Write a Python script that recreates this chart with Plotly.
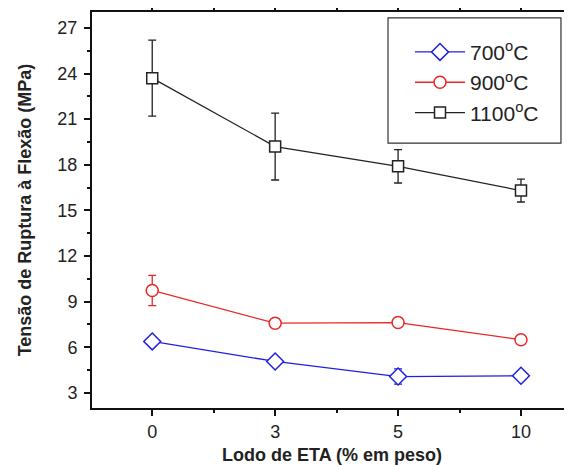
import plotly.graph_objects as go

categories = ["0", "3", "5", "10"]
series_names = ["700<sup>o</sup>C", "900<sup>o</sup>C", "1100<sup>o</sup>C"]
vals_700 = [6.38, 5.06, 4.07, 4.12]
err_700 = [0.3, 0.3, 0.5, 0.3]
vals_900 = [9.73, 7.58, 7.62, 6.49]
err_900 = [1.0, 0.3, 0.3, 0.2]
vals_1100 = [23.7, 19.2, 17.9, 16.3]
err_1100 = [2.5, 2.2, 1.1, 0.75]
y_ticks = [3, 6, 9, 12, 15, 18, 21, 24, 27]

colors = ["#2020e0", "#e82828", "#222222"]
symbols = ["diamond", "circle", "square"]
sizes = [13, 12, 11]

xpos = list(range(len(categories)))
fig = go.Figure()
for name, vals, errs, c, s, sz in zip(series_names, [vals_700, vals_900, vals_1100],
                                       [err_700, err_900, err_1100], colors, symbols, sizes):
    fig.add_trace(go.Scatter(
        x=xpos, y=vals, name=name, mode="lines+markers",
        line=dict(color=c, width=1.3),
        marker=dict(symbol=s, size=sz, color="white", line=dict(color=c, width=1.5)),
        error_y=dict(type="data", array=errs, visible=True, color=c, thickness=1.3, width=4),
    ))

fig.update_layout(
    width=564, height=457,
    margin=dict(l=84, r=0, t=4, b=57, autoexpand=False),
    paper_bgcolor="white", plot_bgcolor="white",
    font=dict(family="Liberation Sans, Arial, sans-serif", color="#222222"),
    showlegend=True,
    legend=dict(x=0.6625, y=0.95, xanchor="left", yanchor="top",
                borderwidth=0, bgcolor="rgba(0,0,0,0)",
                font=dict(size=21), itemwidth=50, tracegroupgap=0),
    shapes=[dict(type="rect", xref="paper", yref="paper", x0=0.6167, x1=0.977,
                 y0=0.669, y1=0.985, line=dict(color="#333333", width=1.2),
                 fillcolor="white", layer="below")],
)
fig.update_xaxes(
    range=[-0.49, 3.415], tickmode="array", tickvals=xpos, ticktext=categories,
    automargin=False,
    showgrid=False, zeroline=False, showline=True, linecolor="#111111", linewidth=2,
    mirror="ticks", ticks="outside", ticklen=6, tickwidth=2, tickcolor="#111111",
    tickfont=dict(size=18),
    minor=dict(tickvals=[0.5, 1.5, 2.5], ticks="outside", ticklen=3, tickwidth=2, tickcolor="#111111"),
    title=dict(text="<b>Lodo de ETA (% em peso)</b>", font=dict(size=18), standoff=9),
)
fig.update_yaxes(
    range=[2.0, 28.05], tickmode="array", tickvals=y_ticks,
    automargin=False,
    showgrid=False, zeroline=False, showline=True, linecolor="#111111", linewidth=2,
    ticks="outside", ticklen=6, tickwidth=2, tickcolor="#111111",
    tickfont=dict(size=18), ticklabelstandoff=3,
    minor=dict(tickvals=[t + 1.5 for t in y_ticks] + [1.5], ticks="outside", ticklen=3, tickwidth=2, tickcolor="#111111"),
    title=dict(text="<b>Tensão de Ruptura à Flexão (MPa)</b>", font=dict(size=18), standoff=21),
)

fig.write_html("out.html")
